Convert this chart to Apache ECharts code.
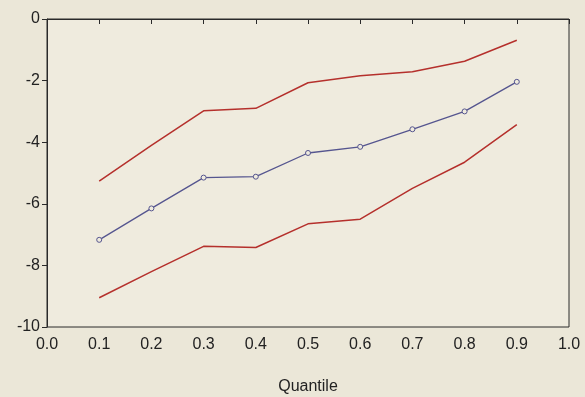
<!DOCTYPE html>
<html><head><meta charset="utf-8">
<script src="https://cdn.jsdelivr.net/npm/echarts@6/dist/echarts.min.js"></script>
<style>html,body{margin:0;padding:0;background:#ebe7d8;}#c{width:585px;height:397px;}</style>
</head><body><div id="c"></div>
<script>
var quantiles = [0.1, 0.2, 0.3, 0.4, 0.5, 0.6, 0.7, 0.8, 0.9];
var estimate = [-7.17, -6.15, -5.15, -5.12, -4.35, -4.15, -3.58, -3.0, -2.04];
var upperBand = [-5.26, -4.1, -2.98, -2.9, -2.07, -1.84, -1.71, -1.37, -0.69];
var lowerBand = [-9.05, -8.2, -7.38, -7.42, -6.65, -6.5, -5.5, -4.65, -3.43];
var xTicks = ['0.0','0.1','0.2','0.3','0.4','0.5','0.6','0.7','0.8','0.9','1.0'];
var yTicks = [0, -2, -4, -6, -8, -10];
var xTitle = 'Quantile';

function pairs(v){ return quantiles.map(function(q,i){ return [q, v[i]]; }); }
var chart = echarts.init(document.getElementById('c'), null, {renderer:'canvas'});
var axisTxt = {color:'#222', fontFamily:'Liberation Sans, Arial', fontSize:16};
chart.setOption({
  backgroundColor:'#ebe7d8',
  animation:false,
  grid:{left:47, right:16, top:19, bottom:70, containLabel:false, outerBoundsMode:'none',
    show:true, borderColor:'#2a2a2a', borderWidth:1, backgroundColor:'#efebde'},
  xAxis:{type:'value', min:0, max:1, interval:0.1,
    name:xTitle, nameLocation:'middle', nameGap:52,
    nameTextStyle:{color:'#222', fontFamily:'Liberation Sans, Arial', fontSize:16},
    axisLine:{lineStyle:{color:'#2a2a2a'}}, axisTick:{lineStyle:{color:'#2a2a2a'}, length:5},
    splitLine:{show:false},
    axisLabel:Object.assign({margin:10, formatter:function(v){ return xTicks[Math.round(v*10)]; }}, axisTxt)},
  yAxis:{type:'value', min:-10, max:0, interval:2,
    axisLine:{show:true, lineStyle:{color:'#2a2a2a'}}, axisTick:{show:true, lineStyle:{color:'#2a2a2a'}, length:5},
    splitLine:{show:false},
    axisLabel:Object.assign({margin:7, formatter:function(v){ return yTicks.indexOf(v)>=0 ? String(v) : ''; }}, axisTxt)},
  series:[
    {type:'line', data:pairs(upperBand), symbol:'none', lineStyle:{color:'#b5302c', width:1.5}},
    {type:'line', data:pairs(lowerBand), symbol:'none', lineStyle:{color:'#b5302c', width:1.5}},
    {type:'line', data:pairs(estimate), symbol:'circle', symbolSize:5, showSymbol:true,
      itemStyle:{color:'#efebde', borderColor:'#55558f', borderWidth:1},
      lineStyle:{color:'#55558f', width:1.3}}
  ]
});
</script></body></html>
